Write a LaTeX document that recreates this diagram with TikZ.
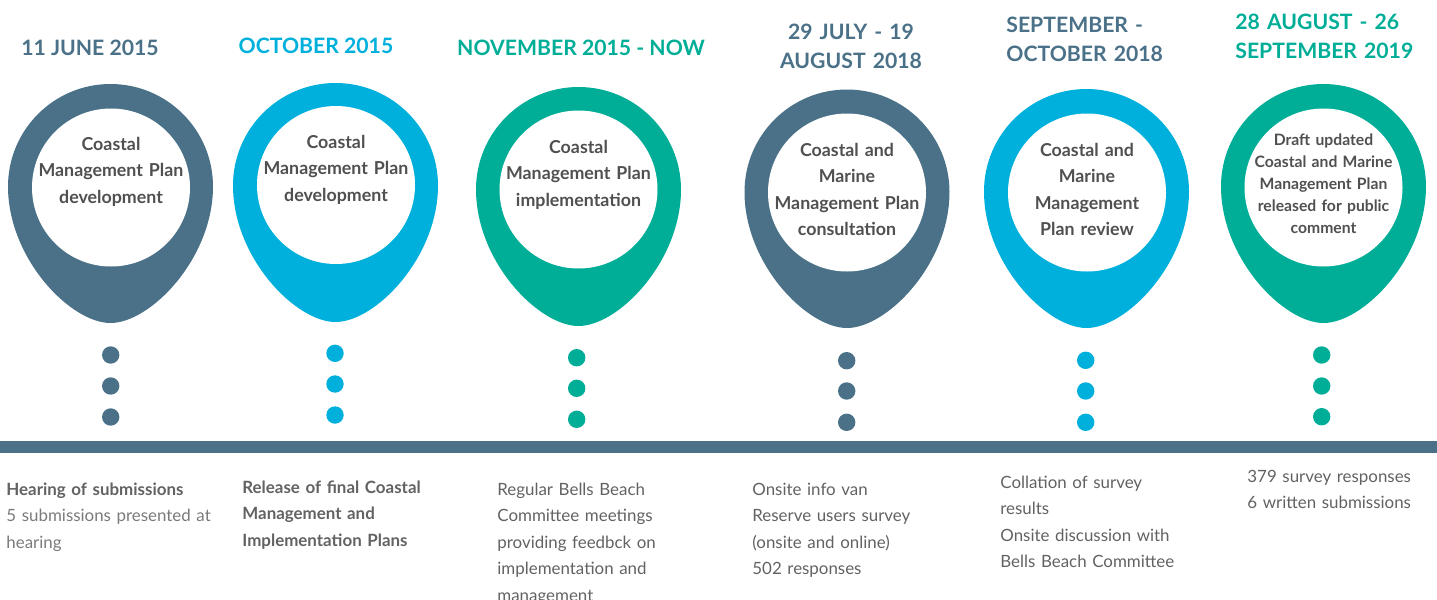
\documentclass[tikz,border=0pt]{standalone}
\usepackage{fontspec}
\setmainfont{Lato}
\definecolor{slate}{HTML}{4A7188}
\definecolor{cyanc}{HTML}{00B0DC}
\definecolor{tealc}{HTML}{00AE98}
\definecolor{pintxt}{HTML}{505050}
\definecolor{bodytxt}{HTML}{626262}
\definecolor{lighttxt}{HTML}{7A7A7A}
\begin{document}
\begin{tikzpicture}[x=0.5pt,y=-0.5pt,
  heading/.style={font=\fontsize{10.6}{14.5}\selectfont\bfseries, inner sep=0pt, anchor=base, align=center},
  headleft/.style={font=\fontsize{10.6}{14.5}\selectfont\bfseries, inner sep=0pt, anchor=base west, align=left},
  pintext/.style={font=\fontsize{8.9}{13.25}\selectfont\bfseries, text=pintxt, inner sep=0pt, anchor=base, text width=90pt, align=center},
  pinsmall/.style={font=\fontsize{7.85}{11}\selectfont\bfseries, text=pintxt, inner sep=0pt, anchor=base, text width=90pt, align=center},
  body/.style={font=\fontsize{8.45}{13.25}\selectfont, text=bodytxt, inner sep=0pt, anchor=base west, text width=110pt, align=left},
  hole/.style={circle, fill=white, inner sep=0pt},
  dot/.style={circle, inner sep=0pt, minimum size=8.7pt}]
\useasboundingbox (0,0) rectangle (1437,600);
% pins
\foreach \n/\cx/\cy/\tp/\icx/\icy/\c in {
  1/110.5/186.5/323/111/187.5/slate,
  2/335.5/185.5/322/336/185/cyanc,
  3/578.5/189.5/326/578.5/189.5/tealc,
  4/847/192/328/847/192.5/slate,
  5/1086.5/191.5/328/1087/192.5/cyanc,
  6/1323.5/186.5/323/1323.5/187.5/tealc}{
  \fill[\c] ({\cx-102.5},\cy) .. controls ({\cx-102.5},{\cy-56.6}) and ({\cx-56.6},{\cy-102.5}) .. (\cx,{\cy-102.5})
     .. controls ({\cx+56.6},{\cy-102.5}) and ({\cx+102.5},{\cy-56.6}) .. ({\cx+102.5},\cy)
     .. controls ({\cx+102.5},{\cy+72}) and ({\cx+40},\tp) .. (\cx,\tp)
     .. controls ({\cx-40},\tp) and ({\cx-102.5},{\cy+72}) .. cycle;
  \node[hole, minimum size=79pt] (hole\n) at (\icx,\icy) {};
}
% dots
\foreach \n/\x/\ya/\yb/\yc/\c in {
  1/110.7/355/386/417/slate,
  2/335/353.3/384/415/cyanc,
  3/576.7/357.7/388.3/419.3/tealc,
  4/846.7/360.7/391/422.3/slate,
  5/1085.7/360.3/391/422.3/cyanc,
  6/1321.7/355/386/416.7/tealc}{
  \node[dot, fill=\c] (d\n a) at (\x,\ya) {};
  \node[dot, fill=\c] (d\n b) at (\x,\yb) {};
  \node[dot, fill=\c] (d\n c) at (\x,\yc) {};
}
% bar
\fill[slate] (0,441) rectangle (1437,453);
% headings
\node[heading, text=slate] (h1) at (90,55) {11 JUNE 2015};
\node[heading, text=cyanc] (h2) at (316,53) {OCTOBER 2015};
\node[heading, text=tealc] (h3) at (581,55) {NOVEMBER 2015 - NOW};
\node[heading, text=slate, text width=100pt] (h4) at (851,39) {29 JULY - 19\\AUGUST 2018};
\node[headleft, text=slate, text width=100pt] (h5) at (1006,32) {SEPTEMBER -\\OCTOBER 2018};
\node[headleft, text=tealc, text width=100pt] (h6) at (1235,29) {28 AUGUST - 26\\SEPTEMBER 2019};
% pin texts
\node[pintext] (t1) at (111,150) {Coastal\\Management Plan\\development};
\node[pintext] (t2) at (336,148) {Coastal\\Management Plan\\development};
\node[pintext] (t3) at (578.5,153) {Coastal\\Management Plan\\implementation};
\node[pintext] (t4) at (847,156) {Coastal and\\Marine\\Management Plan\\consultation};
\node[pintext] (t5) at (1087,156) {Coastal and\\Marine\\Management\\Plan review};
\node[pinsmall] (t6) at (1323.5,145) {Draft updated\\Coastal and Marine\\Management Plan\\released for public\\comment};
% bottom texts
\node[body] (b1) at (6,495) {\textcolor{bodytxt}{\bfseries Hearing of submissions}\\\textcolor{lighttxt}{5 submissions presented at}\\\textcolor{lighttxt}{hearing}};
\node[body, font=\fontsize{8.45}{13.25}\selectfont\bfseries] (b2) at (242,493) {Release of final Coastal\\Management and\\Implementation Plans};
\node[body] (b3) at (497,495) {Regular Bells Beach\\Committee meetings\\providing feedbck on\\implementation and\\management};
\node[body] (b4) at (752,495) {Onsite info van\\Reserve users survey\\(onsite and online)\\502 responses};
\node[body] (b5) at (1000,488) {Collation of survey\\results\\Onsite discussion with\\Bells Beach Committee};
\node[body] (b6) at (1247,482) {379 survey responses\\6 written submissions};
\end{tikzpicture}
\end{document}
